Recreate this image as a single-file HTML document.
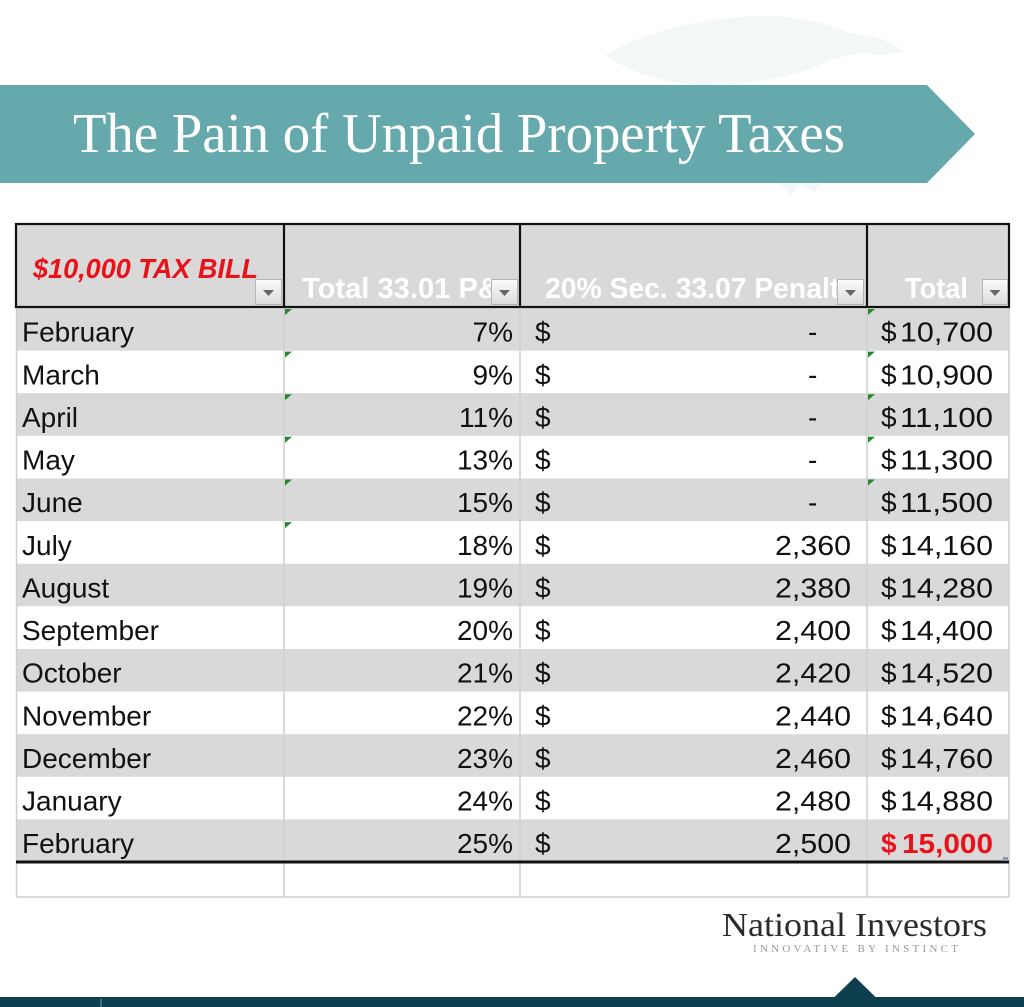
<!DOCTYPE html>
<html>
<head>
<meta charset="utf-8">
<style>
html,body{margin:0;padding:0;background:#fff;}
svg{display:block;}
</style>
</head>
<body>
<svg xmlns="http://www.w3.org/2000/svg" width="1024" height="1007" viewBox="0 0 1024 1007">
  <defs>
    <linearGradient id="btn" x1="0" y1="0" x2="0" y2="1">
      <stop offset="0" stop-color="#fbfbfb"/>
      <stop offset="1" stop-color="#dcdcdc"/>
    </linearGradient>
    <clipPath id="c2"><rect x="286" y="224" width="205" height="83"/></clipPath>
    <clipPath id="c3"><rect x="522" y="224" width="315" height="83"/></clipPath>
    <clipPath id="c4"><rect x="869" y="224" width="114" height="83"/></clipPath>
  </defs>
  <rect width="1024" height="1007" fill="#fff"/>

  <!-- faint goose -->
  <g fill="#f3f7f8">
    <path d="M605 55 C650 30 700 18 760 16 C800 15 830 25 850 33 C870 35 885 38 905 52 L880 55 C860 52 845 55 830 60 C800 75 760 85 700 85 C660 82 630 72 605 55 Z"/>
    <path d="M780 183 L790 195 L800 185 L815 192 L822 183 Z"/>
  </g>

  <!-- banner -->
  <polygon points="0,85 927,85 975,134 927,183 0,183" fill="#66a9ad"/>
  <text x="73" y="152" font-family="Liberation Serif, serif" font-size="56" fill="#fff" textLength="772" lengthAdjust="spacingAndGlyphs">The Pain of Unpaid Property Taxes</text>

  <!-- header -->
  <rect x="16" y="223" width="993" height="84" fill="#d9d9d9"/>

  <!-- rows -->
  <g font-family="Liberation Sans, sans-serif" font-size="28" fill="#111">
    <rect x="16" y="308" width="993" height="42.6" fill="#d9d9d9"/>
    <rect x="16" y="393.2" width="993" height="42.6" fill="#d9d9d9"/>
    <rect x="16" y="478.5" width="993" height="42.6" fill="#d9d9d9"/>
    <rect x="16" y="563.7" width="993" height="42.6" fill="#d9d9d9"/>
    <rect x="16" y="649" width="993" height="42.6" fill="#d9d9d9"/>
    <rect x="16" y="734.2" width="993" height="42.6" fill="#d9d9d9"/>
    <rect x="16" y="819.4" width="993" height="42.6" fill="#d9d9d9"/>

    <!-- light grid lines -->
    <g stroke="#cfcfcf" stroke-width="1.5">
      <line x1="16.5" y1="307" x2="16.5" y2="897"/>
      <line x1="284" y1="307" x2="284" y2="897"/>
      <line x1="520" y1="307" x2="520" y2="897"/>
      <line x1="867" y1="307" x2="867" y2="897"/>
      <line x1="1009" y1="307" x2="1009" y2="897"/>
      <line x1="16" y1="897" x2="1009" y2="897"/>
    </g>

    <!-- column 1 -->
    <text x="22" y="341.7">February</text>
    <text x="22" y="384.3">March</text>
    <text x="22" y="426.9">April</text>
    <text x="22" y="469.6">May</text>
    <text x="22" y="512.2">June</text>
    <text x="22" y="554.8">July</text>
    <text x="22" y="597.4">August</text>
    <text x="22" y="640">September</text>
    <text x="22" y="682.7">October</text>
    <text x="22" y="725.3">November</text>
    <text x="22" y="767.9">December</text>
    <text x="22" y="810.5">January</text>
    <text x="22" y="853.1">February</text>

    <!-- column 2 -->
    <g text-anchor="end">
      <text x="513" y="341.7">7%</text>
      <text x="513" y="384.3">9%</text>
      <text x="513" y="426.9">11%</text>
      <text x="513" y="469.6">13%</text>
      <text x="513" y="512.2">15%</text>
      <text x="513" y="554.8">18%</text>
      <text x="513" y="597.4">19%</text>
      <text x="513" y="640">20%</text>
      <text x="513" y="682.7">21%</text>
      <text x="513" y="725.3">22%</text>
      <text x="513" y="767.9">23%</text>
      <text x="513" y="810.5">24%</text>
      <text x="513" y="853.1">25%</text>
    </g>

    <!-- column 3 -->
    <g>
      <text x="535" y="341.7">$</text>
      <text x="535" y="384.3">$</text>
      <text x="535" y="426.9">$</text>
      <text x="535" y="469.6">$</text>
      <text x="535" y="512.2">$</text>
      <text x="535" y="554.8">$</text>
      <text x="535" y="597.4">$</text>
      <text x="535" y="640">$</text>
      <text x="535" y="682.7">$</text>
      <text x="535" y="725.3">$</text>
      <text x="535" y="767.9">$</text>
      <text x="535" y="810.5">$</text>
      <text x="535" y="853.1">$</text>
    </g>
    <g>
      <text x="808" y="341.7">-</text>
      <text x="808" y="384.3">-</text>
      <text x="808" y="426.9">-</text>
      <text x="808" y="469.6">-</text>
      <text x="808" y="512.2">-</text>
      <text x="775" y="554.8" textLength="76" lengthAdjust="spacingAndGlyphs">2,360</text>
      <text x="775" y="597.4" textLength="76" lengthAdjust="spacingAndGlyphs">2,380</text>
      <text x="775" y="640" textLength="76" lengthAdjust="spacingAndGlyphs">2,400</text>
      <text x="775" y="682.7" textLength="76" lengthAdjust="spacingAndGlyphs">2,420</text>
      <text x="775" y="725.3" textLength="76" lengthAdjust="spacingAndGlyphs">2,440</text>
      <text x="775" y="767.9" textLength="76" lengthAdjust="spacingAndGlyphs">2,460</text>
      <text x="775" y="810.5" textLength="76" lengthAdjust="spacingAndGlyphs">2,480</text>
      <text x="775" y="853.1" textLength="76" lengthAdjust="spacingAndGlyphs">2,500</text>
    </g>

    <!-- column 4 -->
    <g>
      <text x="881" y="341.7">$</text>
      <text x="881" y="384.3">$</text>
      <text x="881" y="426.9">$</text>
      <text x="881" y="469.6">$</text>
      <text x="881" y="512.2">$</text>
      <text x="881" y="554.8">$</text>
      <text x="881" y="597.4">$</text>
      <text x="881" y="640">$</text>
      <text x="881" y="682.7">$</text>
      <text x="881" y="725.3">$</text>
      <text x="881" y="767.9">$</text>
      <text x="881" y="810.5">$</text>
    </g>
    <g>
      <text x="900" y="341.7" textLength="93" lengthAdjust="spacingAndGlyphs">10,700</text>
      <text x="900" y="384.3" textLength="93" lengthAdjust="spacingAndGlyphs">10,900</text>
      <text x="900" y="426.9" textLength="93" lengthAdjust="spacingAndGlyphs">11,100</text>
      <text x="900" y="469.6" textLength="93" lengthAdjust="spacingAndGlyphs">11,300</text>
      <text x="900" y="512.2" textLength="93" lengthAdjust="spacingAndGlyphs">11,500</text>
      <text x="900" y="554.8" textLength="93" lengthAdjust="spacingAndGlyphs">14,160</text>
      <text x="900" y="597.4" textLength="93" lengthAdjust="spacingAndGlyphs">14,280</text>
      <text x="900" y="640" textLength="93" lengthAdjust="spacingAndGlyphs">14,400</text>
      <text x="900" y="682.7" textLength="93" lengthAdjust="spacingAndGlyphs">14,520</text>
      <text x="900" y="725.3" textLength="93" lengthAdjust="spacingAndGlyphs">14,640</text>
      <text x="900" y="767.9" textLength="93" lengthAdjust="spacingAndGlyphs">14,760</text>
      <text x="900" y="810.5" textLength="93" lengthAdjust="spacingAndGlyphs">14,880</text>
    </g>
    <g fill="#e8121b" font-weight="bold">
      <text x="881" y="853.1">$</text>
      <text x="902" y="853.1" textLength="91" lengthAdjust="spacingAndGlyphs">15,000</text>
    </g>
  </g>

  <!-- green error triangles -->
  <g fill="#1f8a2a">
    <polygon points="285,309 292,309 285,315"/>
    <polygon points="285,351.6 292,351.6 285,357.6"/>
    <polygon points="285,394.2 292,394.2 285,400.2"/>
    <polygon points="285,436.8 292,436.8 285,442.8"/>
    <polygon points="285,479.5 292,479.5 285,485.5"/>
    <polygon points="285,522.1 292,522.1 285,528.1"/>
    <polygon points="868,309 875,309 868,315"/>
    <polygon points="868,351.6 875,351.6 868,357.6"/>
    <polygon points="868,394.2 875,394.2 868,400.2"/>
    <polygon points="868,436.8 875,436.8 868,442.8"/>
    <polygon points="868,479.5 875,479.5 868,485.5"/>
  </g>

  <!-- thick bottom line -->
  <rect x="16" y="860.5" width="993" height="3" fill="#111"/>
  <rect x="1003" y="857" width="5" height="4" fill="#8899aa"/>

  <!-- header borders -->
  <g fill="none" stroke="#111" stroke-width="2.2">
    <rect x="16" y="224" width="993" height="83"/>
    <line x1="284" y1="224" x2="284" y2="307"/>
    <line x1="520" y1="224" x2="520" y2="307"/>
    <line x1="867" y1="224" x2="867" y2="307"/>
  </g>

  <!-- header texts -->
  <text x="33" y="278" font-family="Liberation Sans, sans-serif" font-size="28" font-weight="bold" font-style="italic" fill="#e8121b" textLength="225" lengthAdjust="spacingAndGlyphs">$10,000 TAX BILL</text>
  <g font-family="Liberation Sans, sans-serif" font-size="29" font-weight="bold" fill="#fff">
    <text x="302" y="298" clip-path="url(#c2)" textLength="205" lengthAdjust="spacingAndGlyphs">Total 33.01 P&amp;I</text>
    <text x="545" y="298" clip-path="url(#c3)" textLength="310" lengthAdjust="spacingAndGlyphs">20% Sec. 33.07 Penalty</text>
    <text x="905" y="298" clip-path="url(#c4)" textLength="63" lengthAdjust="spacingAndGlyphs">Total</text>
  </g>

  <!-- dropdown buttons -->
  <g>
    <rect x="255.5" y="279.5" width="26" height="25" fill="url(#btn)" stroke="#b5b5b5"/>
    <polygon points="263,290 274,290 268.5,296" fill="#666"/>
    <rect x="491.5" y="279.5" width="26" height="25" fill="url(#btn)" stroke="#b5b5b5"/>
    <polygon points="499,290 510,290 504.5,296" fill="#666"/>
    <rect x="837.5" y="279.5" width="26" height="25" fill="url(#btn)" stroke="#b5b5b5"/>
    <polygon points="845,290 856,290 850.5,296" fill="#666"/>
    <rect x="982.5" y="279.5" width="25" height="25" fill="url(#btn)" stroke="#b5b5b5"/>
    <polygon points="989.5,290 1000.5,290 995,296" fill="#666"/>
  </g>

  <!-- logo -->
  <text x="722" y="936" font-family="Liberation Serif, serif" font-size="34" fill="#2b2b2b" textLength="265" lengthAdjust="spacingAndGlyphs">National Investors</text>
  <text x="753" y="952" font-family="Liberation Serif, serif" font-size="11" fill="#9a9a9a" textLength="205" lengthAdjust="spacing">INNOVATIVE BY INSTINCT</text>

  <!-- bottom bar -->
  <rect x="0" y="997" width="1024" height="10" fill="#0e3f4f"/>
  <polygon points="834,997.5 855,977 876,997.5" fill="#0e3f4f"/>
  <rect x="100" y="999" width="2" height="8" fill="#2f7580"/>
</svg>
</body>
</html>
